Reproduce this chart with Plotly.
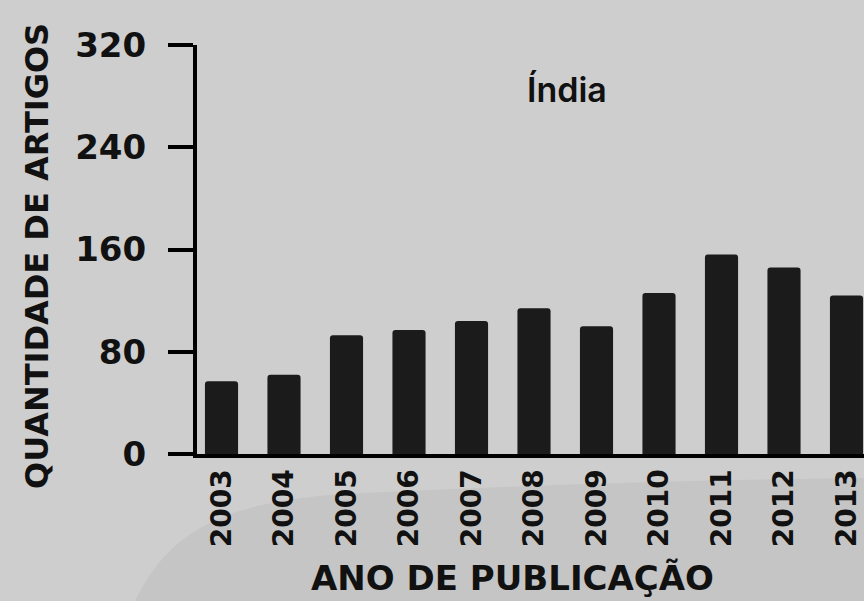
import plotly.graph_objects as go

# Publications per year, India
anos = ["2003", "2004", "2005", "2006", "2007", "2008", "2009", "2010", "2011", "2012", "2013"]
artigos = [57, 62, 93, 97, 104, 114, 100, 126, 156, 146, 124]
y_ticks = [0, 80, 160, 240, 320]

W, H = 864, 601
L, R, T, B = 197, 0, 45, 147
PW, PH = W - L - R, H - T - B


def px_to_paper(px, py):
    return (px - L) / PW, (H - B - py) / PH


bold = dict(family="DejaVu Sans", color="#111111", weight="bold")

fig = go.Figure(
    go.Bar(
        x=anos,
        y=artigos,
        width=0.53,
        marker=dict(color="#1b1b1b", line=dict(width=0)),
        hoverinfo="x+y",
    )
)

# darker patch across the lower part of the backdrop
fig.add_shape(
    type="path",
    xref="paper",
    yref="paper",
    layer="below",
    line=dict(width=0),
    fillcolor="rgba(150,150,150,0.16)",
    path=(
        "M {:.4f} {:.4f} C {:.4f} {:.4f} {:.4f} {:.4f} {:.4f} {:.4f} "
        "C {:.4f} {:.4f} {:.4f} {:.4f} {:.4f} {:.4f} L {:.4f} {:.4f} L {:.4f} {:.4f} Z"
    ).format(
        *px_to_paper(135, 601),
        *px_to_paper(165, 540),
        *px_to_paper(210, 505),
        *px_to_paper(330, 495),
        *px_to_paper(520, 485),
        *px_to_paper(700, 480),
        *px_to_paper(864, 478),
        *px_to_paper(864, 601),
        *px_to_paper(135, 601),
    ),
)

ax, ay = px_to_paper(567, 89)
tx, ty = px_to_paper(37, 256)
xx, xy = px_to_paper(512, 578)

fig.update_layout(
    width=W,
    height=H,
    margin=dict(l=L, r=R, t=T, b=B, pad=0),
    paper_bgcolor="#cecece",
    plot_bgcolor="rgba(0,0,0,0)",
    showlegend=False,
    bargap=0.47,
    barcornerradius=3,
    xaxis=dict(
        type="category",
        range=[-0.392, 10.28],
        showline=True,
        linecolor="#000000",
        linewidth=4,
        ticks="",
        showgrid=False,
        zeroline=False,
        tickangle=-90,
        tickfont=dict(size=28, **bold),
    ),
    yaxis=dict(
        range=[0, 320],
        tickvals=y_ticks,
        ticktext=[str(v) for v in y_ticks],
        showline=True,
        linecolor="#000000",
        linewidth=4,
        ticks="outside",
        ticklen=25,
        tickwidth=4,
        tickcolor="#000000",
        ticklabelstandoff=15,
        showgrid=False,
        zeroline=False,
        tickfont=dict(size=34, **bold),
    ),
    annotations=[
        dict(
            text="Índia",
            x=ax,
            y=ay,
            xref="paper",
            yref="paper",
            xanchor="center",
            yanchor="middle",
            showarrow=False,
            font=dict(family="Inter", size=34, color="#111111", weight=600),
        ),
        dict(
            text="QUANTIDADE DE ARTIGOS",
            x=tx,
            y=ty,
            xref="paper",
            yref="paper",
            xanchor="center",
            yanchor="middle",
            textangle=-90,
            showarrow=False,
            font=dict(size=32, **bold),
        ),
        dict(
            text="ANO DE PUBLICAÇÃO",
            x=xx,
            y=xy,
            xref="paper",
            yref="paper",
            xanchor="center",
            yanchor="middle",
            showarrow=False,
            font=dict(size=34, **bold),
        ),
    ],
)

fig.write_html("out.html")
